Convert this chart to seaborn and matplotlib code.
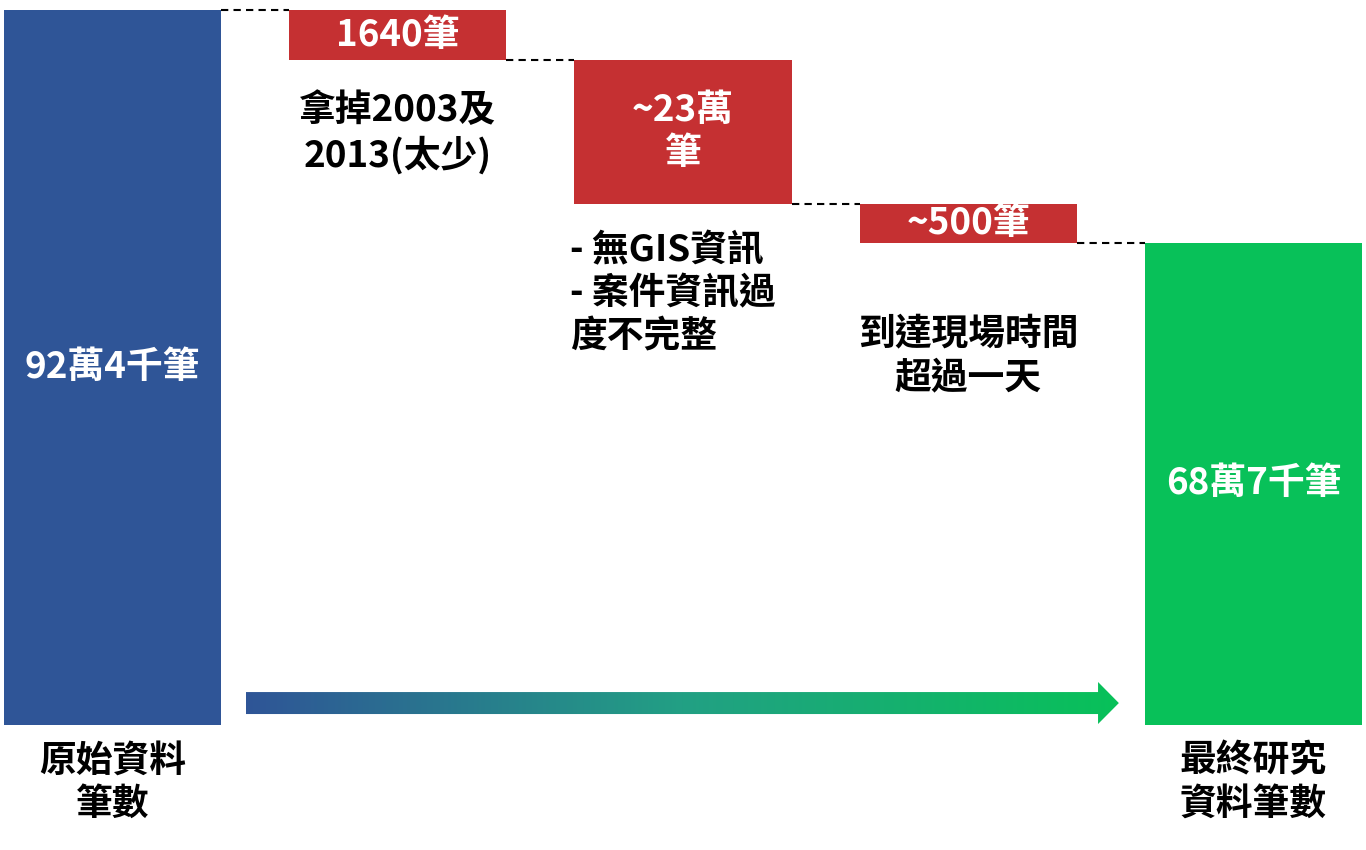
import numpy as np
import pandas as pd
import matplotlib
matplotlib.use("Agg")
import matplotlib.pyplot as plt
from matplotlib.patches import Polygon
from matplotlib.colors import LinearSegmentedColormap
import seaborn as sns

# bar heights as drawn on the slide (the slide is not to scale with its labels)
step_names = ["原始", "年份", "GIS", "時間", "最終"]
start_height = 924
drop_heights = [65, 186, 50]
bar_labels = ["92萬4千筆", "1640筆", "~23萬\n筆", "~500筆", "68萬7千筆"]
drop_notes = ["拿掉2003及\n2013(太少)", "- 無GIS資訊\n- 案件資訊過\n度不完整", "到達現場時間\n超過一天"]
end_labels = ["原始資料\n筆數", "最終研究\n資料筆數"]
bar_colors = ["#2F5597", "#C53032", "#C53032", "#C53032", "#08C159"]

# waterfall levels
levels = [start_height]
for d in drop_heights:
    levels.append(levels[-1] - d)
tops = np.array([start_height] + levels[:-1] + [levels[-1]])
bottoms = np.array([0] + levels[1:] + [0])
df = pd.DataFrame({"step": step_names, "top": tops, "bottom": bottoms})

sns.set_style("white")
plt.rcParams["font.family"] = ["Noto Sans CJK TC", "DejaVu Sans"]

fig = plt.figure(figsize=(13.66, 8.5), dpi=100)
ax = fig.add_axes([0, 0, 1, 1])

bar_w = 0.761
sns.barplot(data=df, x="step", y="top", hue="step", palette=bar_colors, saturation=1,
            width=bar_w, linewidth=0, errorbar=None, legend=False, ax=ax)
# lift the floating (drop) bars onto their bottoms
for p, b, t in zip(ax.patches, df["bottom"], df["top"]):
    p.set_y(b)
    p.set_height(t - b)

ax.set_xlim(-0.3944, 4.3944)
ax.set_ylim(-161.5, 936.9)
ax.axis("off")

# dashed connectors
half = bar_w / 2
for i in range(4):
    ax.plot([i + half, i + 1 - half], [levels[i], levels[i]], color="black",
            lw=1.5, linestyle=(0, (3.5, 2.5)), zorder=3)

# labels inside bars
fs = 26.5
wt = "bold"
ls = 1.22
for i, lab in enumerate(bar_labels):
    ax.text(i, bottoms[i] + (tops[i] - bottoms[i]) / 2, lab, ha="center", va="center",
            color="white", fontsize=fs, fontweight=wt, linespacing=ls, zorder=4)

# notes under the drops
note_x = [1, 1.604, 3]
note_y = [765, 557, 477]
note_ha = ["center", "left", "center"]
for i, note in enumerate(drop_notes):
    ax.text(note_x[i], note_y[i], note, ha=note_ha[i], va="center", multialignment=note_ha[i],
            color="black", fontsize=fs, fontweight=wt, linespacing=ls)

# category labels under start/end bars
for x, lab in zip([0, 4], end_labels):
    ax.text(x, -74.5, lab, ha="center", va="center", color="black",
            fontsize=fs, fontweight=wt, linespacing=ls)

# gradient arrow
x0, xh, xt = 0.468, 3.455, 3.528
arrow = Polygon([(x0, 14.2), (xh, 14.2), (xh, 1.3), (xt, 28.4), (xh, 55.6),
                 (xh, 42.6), (x0, 42.6)], closed=True, facecolor="none", edgecolor="none")
ax.add_patch(arrow)
cmap = LinearSegmentedColormap.from_list("arr", ["#2F5597", "#22A084", "#08C159"])
grad = np.linspace(0, 1, 512).reshape(1, -1)
im = ax.imshow(grad, cmap=cmap, extent=(x0, xt, 1.3, 55.6), aspect="auto", zorder=2)
im.set_clip_path(arrow)
ax.set_xlim(-0.3944, 4.3944)
ax.set_ylim(-161.5, 936.9)

fig.savefig("out.png", dpi=100)
